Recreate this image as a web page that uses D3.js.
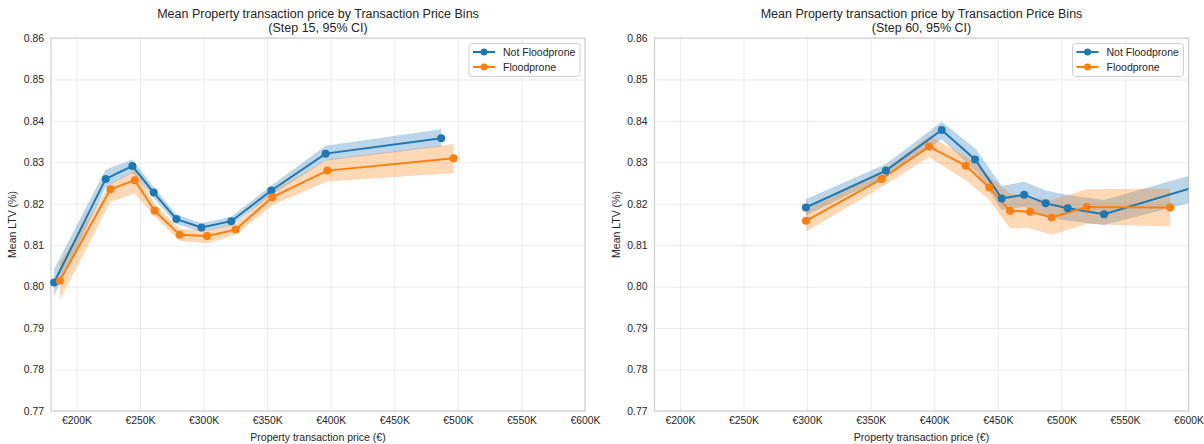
<!DOCTYPE html>
<html>
<head>
<meta charset="utf-8">
<title>Mean LTV by transaction price bins</title>
<script src="https://cdnjs.cloudflare.com/ajax/libs/d3/7.8.5/d3.min.js"></script>
<style>
  body { margin: 0; background: #fff; }
  svg { display: block; font-family: "Liberation Sans", Arial, sans-serif; }
  .grid line { stroke: #ebebeb; stroke-width: 1; }
  .grid path { display: none; }
  .tick text { fill: #262626; font-size: 10.4px; }
</style>
</head>
<body>
<svg id="chart" width="1204" height="444"></svg>
<script>
// tick labels
const xTicks = [200000, 250000, 300000, 350000, 400000, 450000, 500000, 550000, 600000];
const yTicks = [0.77, 0.78, 0.79, 0.80, 0.81, 0.82, 0.83, 0.84, 0.85, 0.86];
const seriesNames = ['Not Floodprone', 'Floodprone'];
const panelTitles = ['Mean Property transaction price by Transaction Price Bins\n(Step 15, 95% CI)',
                     'Mean Property transaction price by Transaction Price Bins\n(Step 60, 95% CI)'];

// step 15 - not floodprone
const s15NotPrice = [182400, 223000, 244000, 260800, 278600, 298300, 321800, 353300, 396000, 486900];
const s15NotMean  = [0.8010, 0.8260, 0.8291, 0.8227, 0.8163, 0.8143, 0.8158, 0.8232, 0.8321, 0.8358];
const s15NotLow   = [0.7978, 0.8240, 0.8274, 0.8214, 0.8151, 0.8132, 0.8147, 0.8221, 0.8304, 0.8338];
const s15NotHigh  = [0.8042, 0.8283, 0.8307, 0.8240, 0.8174, 0.8153, 0.8169, 0.8244, 0.8340, 0.8380];
// step 15 - floodprone
const s15FloPrice = [186900, 226700, 245800, 261500, 281200, 302700, 325200, 354100, 397300, 496600];
const s15FloMean  = [0.8014, 0.8235, 0.8257, 0.8183, 0.8125, 0.8122, 0.8138, 0.8216, 0.8280, 0.8310];
const s15FloLow   = [0.7968, 0.8204, 0.8225, 0.8170, 0.8110, 0.8105, 0.8125, 0.8197, 0.8254, 0.8274];
const s15FloHigh  = [0.8058, 0.8248, 0.8280, 0.8200, 0.8140, 0.8136, 0.8152, 0.8230, 0.8307, 0.8344];

// step 60 - not floodprone (last bin lies past the €600K limit)
const s60NotPrice = [299100, 362000, 405900, 432100, 453100, 470700, 487700, 505000, 533600, 625000];
const s60NotMean  = [0.8191, 0.8280, 0.8378, 0.8307, 0.8213, 0.8222, 0.8201, 0.8189, 0.8175, 0.8259];
const s60NotLow   = [0.8172, 0.8265, 0.8355, 0.8281, 0.8185, 0.8193, 0.8169, 0.8159, 0.8149, 0.8221];
const s60NotHigh  = [0.8211, 0.8296, 0.8398, 0.8334, 0.8243, 0.8253, 0.8232, 0.8221, 0.8209, 0.8289];
// step 60 - floodprone
const s60FloPrice = [299100, 358600, 395900, 424800, 443300, 459600, 475400, 492400, 520000, 585600];
const s60FloMean  = [0.8159, 0.8260, 0.8338, 0.8292, 0.8239, 0.8183, 0.8181, 0.8167, 0.8192, 0.8191];
const s60FloLow   = [0.8133, 0.8240, 0.8312, 0.8257, 0.8209, 0.8141, 0.8141, 0.8125, 0.8151, 0.8145];
const s60FloHigh  = [0.8185, 0.8277, 0.8363, 0.8315, 0.8265, 0.8225, 0.8215, 0.8209, 0.8235, 0.8237];

const colors = ['#1f77b4', '#ff7f0e'];
const xMin = 180000, xMax = 600000;

function rows(price, mean, low, high) {
  return price.map((p, i) => ({ x: p, y: mean[i], lo: low[i], hi: high[i] }));
}

const panels = [
  { left: 51, title: panelTitles[0],
    series: [rows(s15NotPrice, s15NotMean, s15NotLow, s15NotHigh),
             rows(s15FloPrice, s15FloMean, s15FloLow, s15FloHigh)] },
  { left: 654.5, title: panelTitles[1],
    series: [rows(s60NotPrice, s60NotMean, s60NotLow, s60NotHigh),
             rows(s60FloPrice, s60FloMean, s60FloLow, s60FloHigh)] }
];

const plotW = 534, plotTop = 38, plotBottom = 411;
const svg = d3.select('#chart');

panels.forEach((panel, pi) => {
  const x = d3.scaleLinear().domain([xMin, xMax]).range([0, plotW]);
  const y = d3.scaleLinear().domain([0.77, 0.86]).range([plotBottom - plotTop, 0]);
  const h = plotBottom - plotTop;

  const g = svg.append('g').attr('transform', `translate(${panel.left},${plotTop})`);

  g.append('clipPath').attr('id', 'clip' + pi)
    .append('rect').attr('width', plotW).attr('height', h);

  // grid + tick labels
  g.append('g').attr('class', 'grid')
    .attr('transform', `translate(0,${h})`)
    .call(d3.axisBottom(x).tickValues(xTicks).tickSize(-h).tickPadding(6)
      .tickFormat(d => '€' + (d / 1000) + 'K'));
  g.append('g').attr('class', 'grid')
    .call(d3.axisLeft(y).tickValues(yTicks).tickSize(-plotW).tickPadding(7)
      .tickFormat(d3.format('.2f')));

  // frame
  g.append('rect').attr('width', plotW).attr('height', h)
    .attr('fill', 'none').attr('stroke', '#d0d0d0').attr('stroke-width', 1.2);

  const marks = g.append('g').attr('clip-path', `url(#clip${pi})`);

  const area = d3.area().x(d => x(d.x)).y0(d => y(d.lo)).y1(d => y(d.hi));
  const line = d3.line().x(d => x(d.x)).y(d => y(d.y));

  panel.series.forEach((data, si) => {
    marks.append('path').datum(data)
      .attr('d', area).attr('fill', colors[si]).attr('fill-opacity', 0.3);
  });
  panel.series.forEach((data, si) => {
    marks.append('path').datum(data)
      .attr('d', line).attr('fill', 'none')
      .attr('stroke', colors[si]).attr('stroke-width', 2);
    // markers are not clipped, only those inside the x limits are drawn
    g.selectAll('.pt' + si).data(data.filter(d => d.x <= xMax)).enter().append('circle')
      .attr('class', 'pt' + si)
      .attr('cx', d => x(d.x)).attr('cy', d => y(d.y)).attr('r', 4)
      .attr('fill', colors[si]);
  });

  // title
  const lines = panel.title.split('\n');
  g.append('text').attr('x', plotW / 2).attr('y', -20)
    .attr('text-anchor', 'middle').attr('font-size', 12.5).attr('fill', '#262626')
    .text(lines[0]);
  g.append('text').attr('x', plotW / 2).attr('y', -6)
    .attr('text-anchor', 'middle').attr('font-size', 12.5).attr('fill', '#262626')
    .text(lines[1]);

  // axis labels
  g.append('text').attr('x', plotW / 2).attr('y', h + 30)
    .attr('text-anchor', 'middle').attr('font-size', 10.5).attr('fill', '#262626')
    .text('Property transaction price (€)');
  g.append('text')
    .attr('transform', `translate(${-35},${h / 2}) rotate(-90)`)
    .attr('text-anchor', 'middle').attr('font-size', 10.5).attr('fill', '#262626')
    .text('Mean LTV (%)');

  // legend
  const lg = g.append('g').attr('transform', `translate(${plotW - 116},5.5)`);
  lg.append('rect').attr('width', 111).attr('height', 33).attr('rx', 3)
    .attr('fill', '#fff').attr('fill-opacity', 0.8)
    .attr('stroke', '#d0d0d0');
  seriesNames.forEach((name, si) => {
    const row = lg.append('g').attr('transform', `translate(0,${8.5 + si * 15})`);
    row.append('line').attr('x1', 4).attr('x2', 26)
      .attr('stroke', colors[si]).attr('stroke-width', 2);
    row.append('circle').attr('cx', 15).attr('r', 3.5).attr('fill', colors[si]);
    row.append('text').attr('x', 34).attr('dy', '0.35em')
      .attr('font-size', 10.5).attr('fill', '#262626').text(name);
  });
});
</script>
</body>
</html>
